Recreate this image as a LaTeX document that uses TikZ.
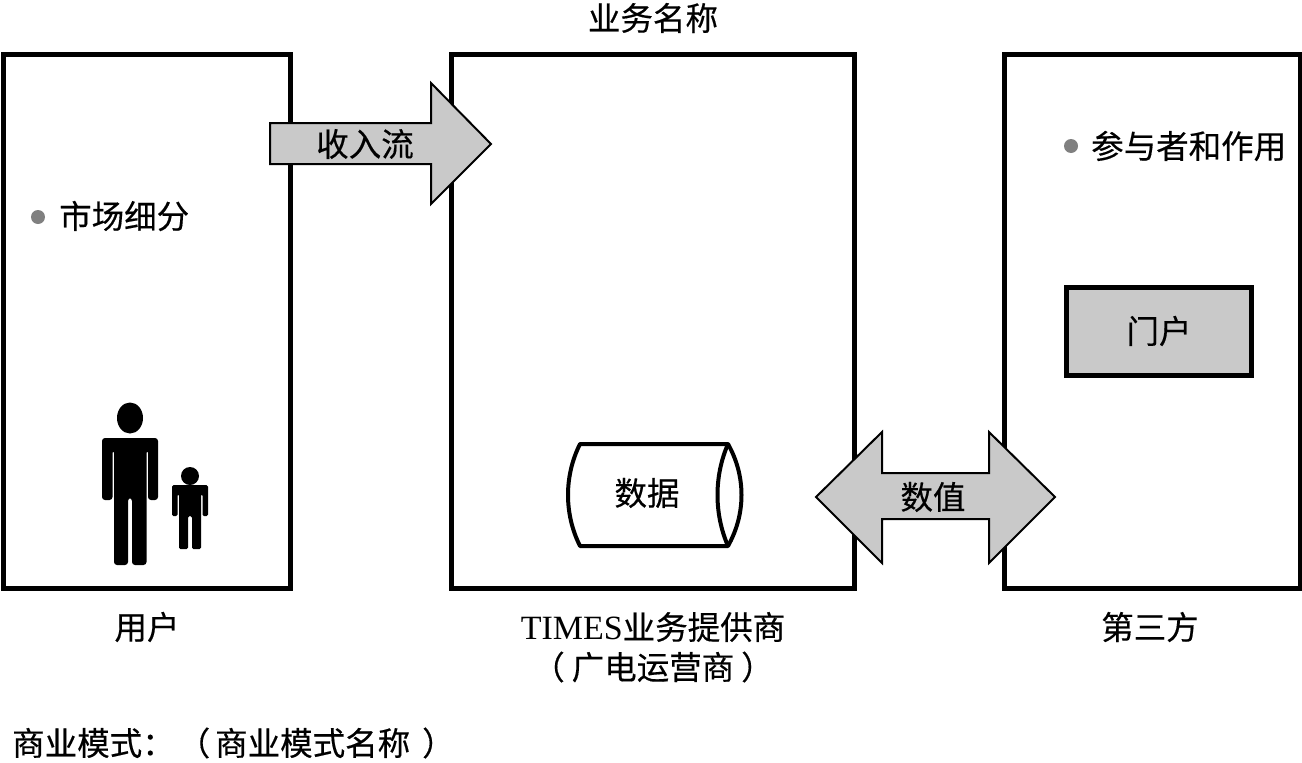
\documentclass[tikz,border=0pt]{standalone}
\usepackage{fontspec}
\setmainfont{Liberation Serif}
\newfontfamily\cjk[FakeBold=0.4]{Noto Sans CJK SC}
\definecolor{panelgray}{gray}{0.79}
\tikzset{
  party/.style={draw=black,line width=4.5pt,fill=white},
  flow/.style={draw=black,line width=2pt,fill=panelgray,line join=miter},
  portalbox/.style={draw=black,line width=4.5pt,fill=panelgray},
  label/.style={font=\fontsize{32.5}{38}\selectfont\cjk,inner sep=0pt,text=black},
  dot/.style={circle,fill=black!50,minimum size=14pt,inner sep=0pt},
  figure/.style={fill=black,draw=none},
  drum/.style={draw=black,line width=4pt,fill=white,line join=round}
}
\begin{document}
\begin{tikzpicture}[x=1pt,y=-1pt]
\useasboundingbox (0,0) rectangle (1302,763);
% three parties
\node[party,minimum width=287pt,minimum height=534pt,inner sep=0pt] (users) at (147,321.5) {};
\node[party,minimum width=403pt,minimum height=534pt,inner sep=0pt] (provider) at (653,321.5) {};
\node[party,minimum width=296pt,minimum height=534pt,inner sep=0pt] (thirdparty) at (1152.5,321.5) {};
% revenue arrow
\draw[flow] (270,123) -- (431,123) -- (431,83) -- (491,144) -- (431,204) -- (431,164) -- (270,164) -- cycle;
\node[label] (revenue) at (365,144) {收入流};
% value arrow
\draw[flow] (816,497) -- (882,432) -- (882,473) -- (989,473) -- (989,432) -- (1055,497) -- (989,563) -- (989,519) -- (882,519) -- (882,563) -- cycle;
\node[label] (value) at (933,497) {数值};
% data store
\draw[drum] (580,444) -- (728,444) .. controls (746,476) and (746,514) .. (728,546) -- (580,546) .. controls (564,514) and (564,476) .. (580,444) -- cycle;
\draw[line width=4pt,line join=round] (728,444) .. controls (714,476) and (714,514) .. (728,546);
\node[label] (data) at (647,493) {数据};
% portal
\node[portalbox,minimum width=185pt,minimum height=88pt,inner sep=0pt] (portal) at (1159,331.5) {};
\node[label] (portaltext) at (1159,331) {门户};
% bullets
\node[dot] (dotsegment) at (38,217) {};
\node[label,anchor=west] (segment) at (59,216) {市场细分};
\node[dot] (dotroles) at (1071,146) {};
\node[label,anchor=west] (roles) at (1091,146) {参与者和作用};
% adult figure
\fill[figure] (130,418) ellipse [x radius=13, y radius=15.5];
\fill[figure,rounded corners=3pt] (102,438) -- (158,438) -- (158,500) -- (148,500) -- (148,450) -- (146.5,450) -- (146.5,565) -- (132,565) -- (132,498) -- (128,498) -- (128,565) -- (114,565) -- (114,450) -- (112.5,450) -- (112.5,500) -- (102,500) -- cycle;
% child figure
\fill[figure] (190,476) circle [radius=9];
\fill[figure,rounded corners=1.5pt] (172,485) -- (208,485) -- (208,516) -- (202.5,516) -- (202.5,494) -- (201,494) -- (201,549) -- (192,549) -- (192,516) -- (188,516) -- (188,549) -- (179,549) -- (179,494) -- (177.5,494) -- (177.5,516) -- (172,516) -- cycle;
% captions
\node[label] (title) at (653,18) {业务名称};
\node[label] (userscap) at (147,627) {用户};
\node[label] (providercap) at (653,627) {{\rmfamily\fontsize{34}{38}\selectfont TIMES}业务提供商};
\node[label] (providersub) at (653,667) {（\hspace{7pt}广电运营商\hspace{7pt}）};
\node[label] (thirdcap) at (1150,627) {第三方};
\node[label,anchor=west] (model) at (12,743) {商业模式：\hspace{3pt}（\hspace{5pt}商业模式名称\hspace{12pt}）};
\end{tikzpicture}
\end{document}
